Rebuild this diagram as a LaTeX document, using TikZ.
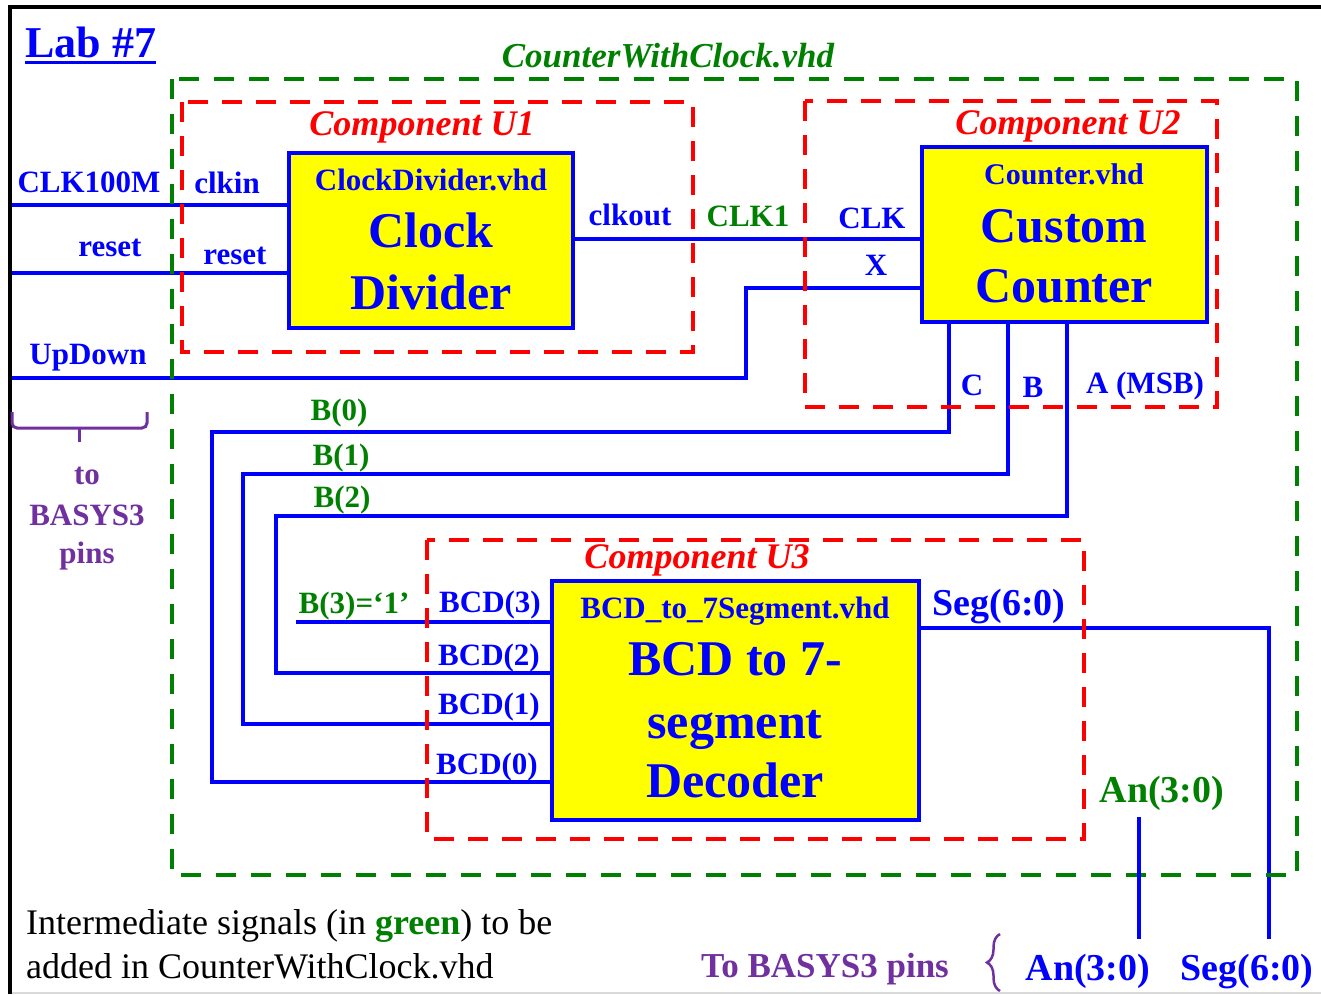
\documentclass[tikz,border=0pt]{standalone}
\usepackage{fontspec}
\setmainfont{Liberation Serif}
\usetikzlibrary{decorations.pathreplacing,calc}
\definecolor{dblue}{RGB}{0,0,255}
\definecolor{dgreen}{RGB}{0,128,0}
\definecolor{dred}{RGB}{255,0,0}
\definecolor{dpurple}{RGB}{112,48,160}
\definecolor{dyellow}{RGB}{255,255,0}
\newcommand{\fsz}[1]{\fontsize{#1}{#1}\selectfont}
\begin{document}
\begin{tikzpicture}[x=1pt,y=-1pt,
  wire/.style={draw=dblue,line width=4pt},
  comp/.style={draw=dred,line width=4pt,dash pattern=on 20pt off 14pt},
  topbox/.style={draw=dgreen,line width=4pt,dash pattern=on 20pt off 15pt},
  block/.style={draw=dblue,fill=dyellow,line width=4pt,inner sep=0pt},
  txt/.style={inner sep=0pt,anchor=base,font=\bfseries\fsz{31}},
  blbl/.style={txt,text=dblue},
  glbl/.style={txt,text=dgreen},
  plbl/.style={txt,text=dpurple},
  rlbl/.style={txt,text=dred,font=\bfseries\itshape\fsz{36}},
  big/.style={txt,text=dblue,font=\bfseries\fsz{50}},
  pbrace/.style={draw=dpurple,line width=3pt}
]
\useasboundingbox (0,0) rectangle (1321,994);
% frame
\draw[black,line width=4pt] (9.5,994) -- (9.5,7) -- (1321,7);
\draw[black!15,line width=1.5pt] (12,993) -- (1321,993);

% title
\node[txt,text=dblue,anchor=base west,font=\bfseries\fsz{44}] (lab) at (25,57) {Lab \#7};
\draw[dblue,line width=3pt] ([yshift=-5pt]lab.base west) -- ([yshift=-5pt]lab.base east);
\node[txt,text=dgreen,font=\bfseries\itshape\fsz{35}] (cwc) at (668,67) {CounterWithClock.vhd};

% blocks
\node[block,minimum width=284pt,minimum height=175pt] (cd) at (431,240.5) {};
\node[block,minimum width=285pt,minimum height=175pt] (cnt) at (1064.5,234.5) {};
\node[block,minimum width=367pt,minimum height=239pt] (dec) at (735.5,700.5) {};

\node[blbl] (cdf) at (431,190) {ClockDivider.vhd};
\node[big] (cd1) at (431,247) {Clock};
\node[big] (cd2) at (431,309) {Divider};
\node[blbl,font=\bfseries\fsz{30}] (cntf) at (1064,184) {Counter.vhd};
\node[big] (cnt1) at (1064,242) {Custom};
\node[big] (cnt2) at (1064,302) {Counter};
\node[blbl] (decf) at (735,618) {BCD\_to\_7Segment.vhd};
\node[big] (dec1) at (735,675) {BCD to 7-};
\node[big] (dec2) at (735,738) {segment};
\node[big] (dec3) at (735,797) {Decoder};

% wire coordinates
\coordinate (inclk) at (12,205);
\coordinate (inrst) at (12,273);
\coordinate (inud) at (12,378);
\coordinate (udk) at (746,378);
\coordinate (yx) at (0,288);
\coordinate (yclk) at (0,239);
\coordinate (cx) at (949,0);
\coordinate (bx) at (1008,0);
\coordinate (ax) at (1067,0);
\coordinate (b0a) at (212,432);
\coordinate (b0b) at (0,782);
\coordinate (b1a) at (243,474);
\coordinate (b1b) at (0,724);
\coordinate (b2a) at (276,516);
\coordinate (b2b) at (0,673);
\coordinate (b3s) at (296,622);
\coordinate (segc) at (1269,628);
\coordinate (segend) at (1269,939);
\coordinate (ant) at (1139,817);
\coordinate (anb) at (1139,939);

% wires
\draw[wire] (inclk) -- (inclk -| cd.west);
\draw[wire] (inrst) -- (inrst -| cd.west);
\draw[wire] (inud) -- (udk) |- (cnt.west |- yx);
\draw[wire] (cd.east |- yclk) -- (cnt.west |- yclk);
\draw[wire] (cnt.south -| cx) |- (b0a) |- (dec.west |- b0b);
\draw[wire] (cnt.south -| bx) |- (b1a) |- (dec.west |- b1b);
\draw[wire] (cnt.south -| ax) |- (b2a) |- (dec.west |- b2b);
\draw[wire] (b3s) -- (b3s -| dec.west);
\draw[wire] (dec.east |- segc) -- (segc) -- (segend);

% dashed boxes
\draw[topbox] (172,79) rectangle (1297,875);
\draw[comp] (182,102) rectangle (693,352);
\draw[comp] (805,101) rectangle (1217,407);
\draw[comp] (427,540) rectangle (1084,839);
\draw[wire] (ant) -- (anb);

\node[rlbl] (u1) at (422,135) {Component U1};
\node[rlbl] (u2) at (1068,134) {Component U2};
\node[rlbl] (u3) at (697,568) {Component U3};

% port labels
\node[blbl] (lclk) at (89,192) {CLK100M};
\node[blbl] (lclkin) at (227,193) {clkin};
\node[blbl] (lrst1) at (110,256) {reset};
\node[blbl] (lrst2) at (235,264) {reset};
\node[blbl] (lud) at (88,364) {UpDown};
\node[blbl] (lclkout) at (630,225) {clkout};
\node[glbl] (lclk1) at (748,226) {CLK1};
\node[blbl] (lclkp) at (872,228) {CLK};
\node[blbl] (lx) at (876,275) {X};
\node[blbl] (lc) at (972,395) {C};
\node[blbl] (lb) at (1033,397) {B};
\node[blbl] (la) at (1145,393) {A (MSB)};
\node[glbl] (lb0) at (339,420) {B(0)};
\node[glbl] (lb1) at (341,465) {B(1)};
\node[glbl] (lb2) at (342,507) {B(2)};
\node[glbl] (lb3) at (354,613) {B(3)=‘1’};
\node[blbl] (lbcd3) at (490,612) {BCD(3)};
\node[blbl] (lbcd2) at (489,665) {BCD(2)};
\node[blbl] (lbcd1) at (489,714) {BCD(1)};
\node[blbl] (lbcd0) at (487,774) {BCD(0)};
\node[blbl,font=\bfseries\fsz{38}] (lseg) at (999,615) {Seg(6:0)};
\node[glbl,font=\bfseries\fsz{38}] (lan) at (1162,802) {An(3:0)};

% left brace and label
\draw[pbrace,rounded corners=5pt] (12,412) -- (12,428) -- (147,428) -- (147,412);
\draw[pbrace] (79,428) -- (79,442);
\node[plbl] (pto) at (87,484) {to};
\node[plbl] (pbas) at (87,525) {BASYS3};
\node[plbl] (ppins) at (87,563) {pins};

% bottom pins
\node[plbl,font=\bfseries\fsz{35}] (pbot) at (825,977) {To BASYS3 pins};
\draw[pbrace,line width=2.5pt,decorate,decoration={brace,amplitude=13pt}] (1000,991) -- (1000,934);
\node[blbl,font=\bfseries\fsz{38}] (ban) at (1088,980) {An(3:0)};
\node[blbl,font=\bfseries\fsz{38}] (bseg) at (1247,980) {Seg(6:0)};

% note
\node[txt,anchor=base west,font=\fsz{36}] (note1) at (26,934) {Intermediate signals (in \textcolor{dgreen}{\textbf{green}}) to be};
\node[txt,anchor=base west,font=\fsz{36}] (note2) at (26,978) {added in CounterWithClock.vhd};
\end{tikzpicture}
\end{document}
